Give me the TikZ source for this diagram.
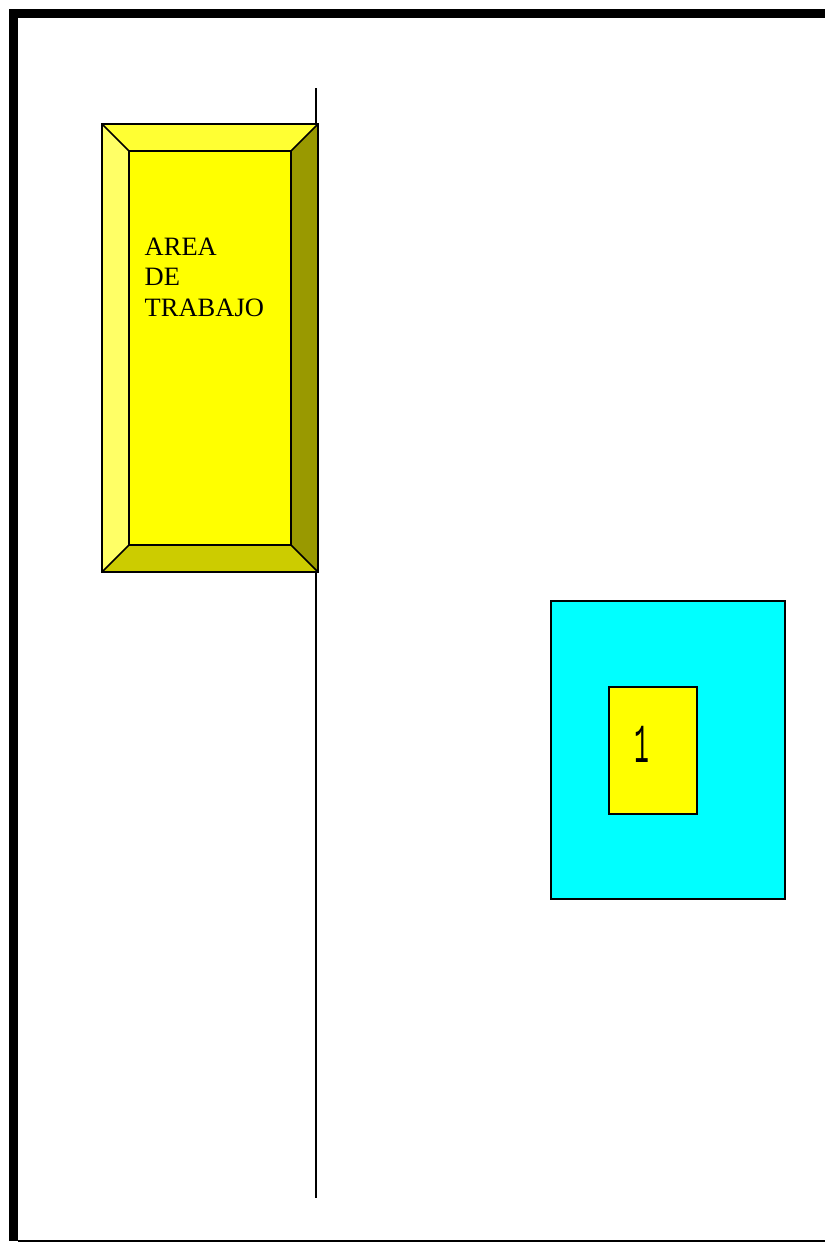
\documentclass[tikz,border=0pt]{standalone}
\usepackage{fontspec}
\setmainfont{Liberation Serif}
\newfontfamily\digitfont{Liberation Mono}
\begin{document}
\begin{tikzpicture}[x=1pt,y=-1pt,
  edge/.style={draw=black,line width=1.5pt,line join=miter},
  frame/.style={fill=black}]
\useasboundingbox (0,0) rectangle (825,1242);
% page frame
\fill[frame] (9,9) rectangle (825,18);
\fill[frame] (9,9) rectangle (18,1241);
\draw[line width=1.5pt] (18,1241) -- (825,1241);
% vertical divider
\coordinate (vt) at (316,88);
\coordinate (vb) at (316,1198);
\draw[line width=1.5pt] (vt) -- (vb);
% bevelled box
\coordinate (o1) at (102,124); \coordinate (o2) at (318,124);
\coordinate (o3) at (318,572); \coordinate (o4) at (102,572);
\coordinate (i1) at (129,151); \coordinate (i2) at (291,151);
\coordinate (i3) at (291,545); \coordinate (i4) at (129,545);
\fill[fill={rgb,255:red,255;green,255;blue,51}] (o1) -- (o2) -- (i2) -- (i1) -- cycle;
\fill[fill={rgb,255:red,255;green,255;blue,102}] (o1) -- (i1) -- (i4) -- (o4) -- cycle;
\fill[fill={rgb,255:red,153;green,153;blue,0}] (o2) -- (o3) -- (i3) -- (i2) -- cycle;
\fill[fill={rgb,255:red,204;green,204;blue,0}] (o4) -- (i4) -- (i3) -- (o3) -- cycle;
\fill[fill={rgb,255:red,255;green,255;blue,0}] (i1) rectangle (i3);
\draw[edge] (o1) rectangle (o3);
\draw[edge] (i1) rectangle (i3);
\draw[edge] (o1) -- (i1) (o2) -- (i2) (o3) -- (i3) (o4) -- (i4);
\node[anchor=base west,inner sep=0pt,align=left,font=\fontsize{26.5}{30.5}\selectfont] (area) at (144.5,316) {AREA\\DE\\TRABAJO};
% cyan box
\draw[line width=2.5pt,fill={rgb,255:red,0;green,255;blue,255}] (551,601) rectangle (785,899);
\draw[line width=2pt,fill={rgb,255:red,255;green,255;blue,0}] (609,687) rectangle (697,814);
\node[inner sep=0pt,xscale=0.45,font=\digitfont\fontsize{55}{55}\selectfont] (one) at (642,744) {1};
\end{tikzpicture}
\end{document}
